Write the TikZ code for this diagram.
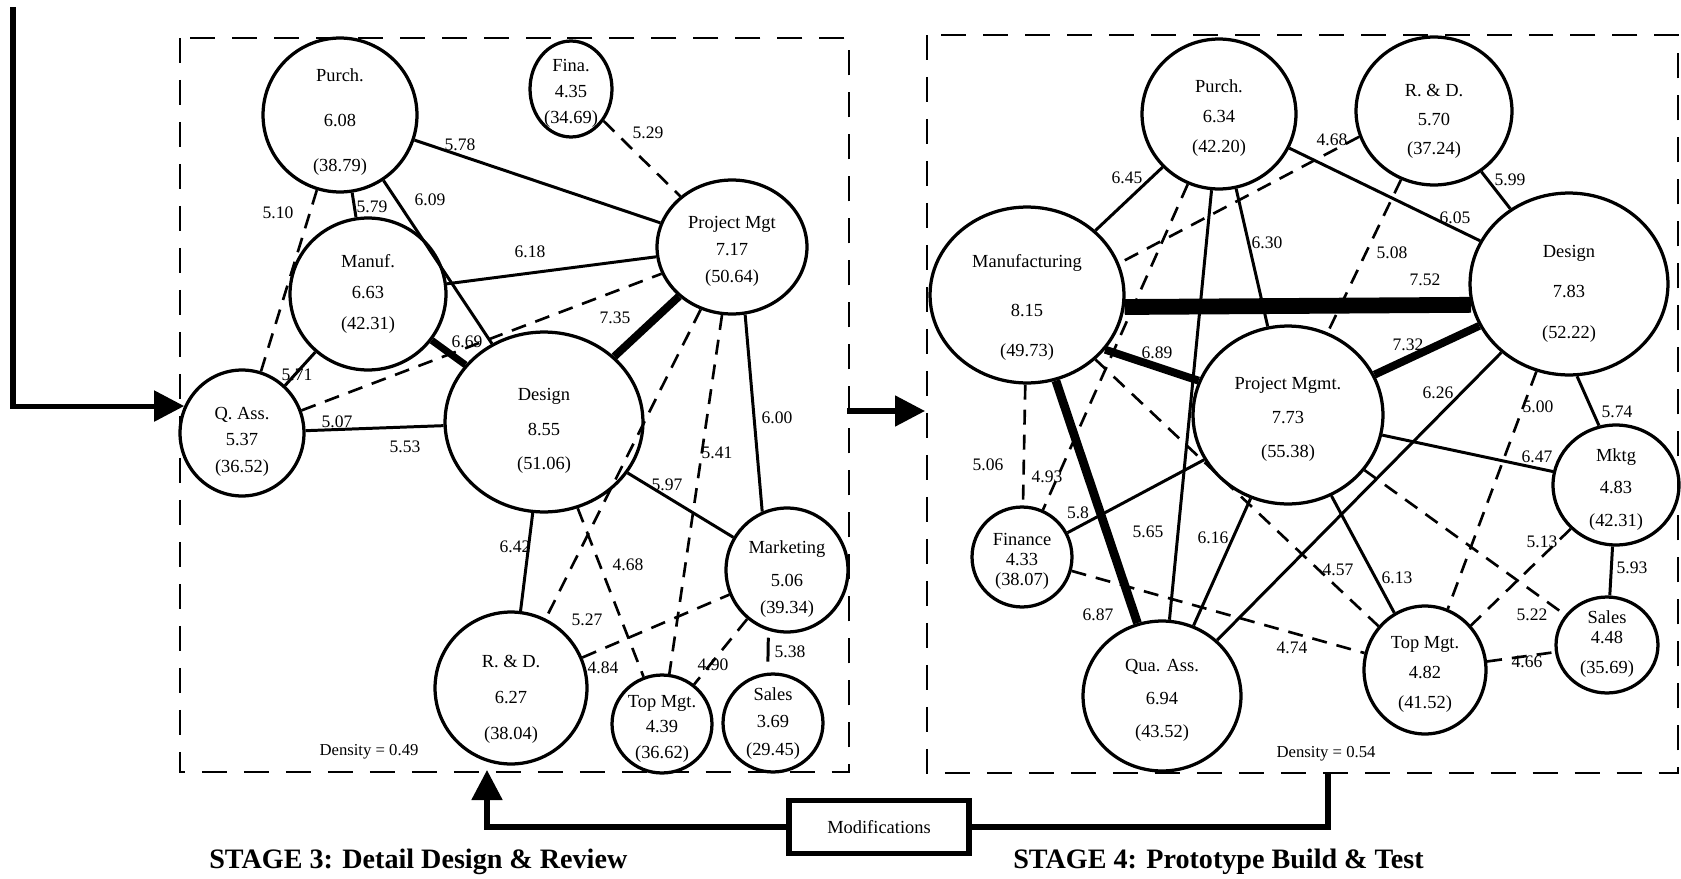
\documentclass[tikz,border=0pt]{standalone}
\usepackage{fontspec}
\setmainfont{Liberation Serif}
\usetikzlibrary{shapes.geometric,arrows.meta}

\newcommand\nfont{\fontsize{10.5}{12}\selectfont}
\newcommand\lfont{\fontsize{10}{12}\selectfont}
\newcommand\dfont{\fontsize{9.5}{11}\selectfont}
\newcommand\tfont{\fontsize{16}{19}\selectfont\bfseries}
% three stacked lines inside a node:
% #1 top strut, #2 bottom strut, #3-#5 the lines, #6 #7 extra gaps
\newcommand\three[7]{\rule{0pt}{#1}#3\\[#6]#4\\[#7]#5\rule[-#2]{0pt}{#2}}

\begin{document}
\begin{tikzpicture}[x=0.02cm,y=-0.02cm,
  % negative inner sep keeps the ellipse at its minimum size whatever the struts
  nd/.style 2 args={draw, ellipse, line width=1.85pt, inner sep=-10pt, align=center,
    font=\nfont, minimum width=#1*0.04cm, minimum height=#2*0.04cm},
  lbl/.style={inner sep=0pt, font=\lfont},
  tie/.style={line width=1.7pt},
  weak/.style={line width=1.5pt, dash pattern=on 0.3cm off 0.2cm},
  heavy/.style={line width=#1},
  frame/.style={line width=1.5pt, dash pattern=on 0.5cm off 0.34cm},
  flow/.style={line width=2.9pt, line join=miter},
  tip/.style={-{Triangle[length=0.6cm,width=0.6cm]}},
]
\path[use as bounding box] (0,0) rectangle (1681,879);

% panel frames
\draw[frame] (180,38) rectangle (849,772);
\draw[frame] (927,35) rectangle (1678,773);

% ---------- stage 3 network ----------
\node[nd={77}{77}] (pu3) at (340,115) {\three{15.5pt}{0pt}{Purch.}{6.08}{(38.79)}{13.5pt}{13.5pt}};
\node[nd={41}{48}] (fi3) at (571,89) {\three{12pt}{0pt}{Fina.}{4.35}{(34.69)}{3pt}{3pt}};
\node[nd={75}{67}] (pm3) at (732,247) {\three{12pt}{0pt}{Project Mgt}{7.17}{(50.64)}{3.5pt}{3.5pt}};
\node[nd={78}{76}] (ma3) at (368,294) {\three{12pt}{7pt}{Manuf.}{6.63}{(42.31)}{5.5pt}{5.5pt}};
\node[nd={62}{63}] (qa3) at (242,433) {\three{17pt}{0pt}{Q. Ass.}{5.37}{(36.52)}{3pt}{3pt}};
\node[nd={99}{90}] (de3) at (544,422) {\three{17pt}{0pt}{Design}{8.55}{(51.06)}{8pt}{7pt}};
\node[nd={61}{62}] (mk3) at (787,570) {\three{18pt}{0pt}{Marketing}{5.06}{(39.34)}{6.7pt}{3.3pt}};
\node[nd={76}{76}] (rd3) at (511,688) {\three{19.5pt}{0pt}{R. \& D.}{6.27}{(38.04)}{8.5pt}{8.5pt}};
\node[nd={50}{49}] (tm3) at (662,724) {\three{12pt}{0pt}{Top Mgt.}{4.39}{(36.62)}{2.5pt}{2.5pt}};
\node[nd={50}{49}] (sa3) at (773,723) {\three{12pt}{6.5pt}{Sales}{3.69}{(29.45)}{3.5pt}{3.5pt}};

\draw[tie] (pu3) -- (pm3);
\draw[tie] (pu3) -- (ma3);
\draw[tie] (pu3) -- (de3);
\draw[weak] (pu3) -- (qa3);
\draw[tie] (ma3) -- (pm3);
\draw[tie] (ma3) -- (qa3);
\draw[heavy=4pt] (ma3) -- (de3);
\draw[weak] (qa3) -- (pm3);
\draw[tie] (qa3) -- (de3);
\draw[heavy=4.5pt] (de3) -- (pm3);
\draw[weak] (fi3) -- (pm3);
\draw[tie] (pm3.-79) -- (mk3.113);
\draw[weak] (pm3) -- (tm3);
\draw[weak] (pm3) -- (rd3);
\draw[weak] (de3) -- (tm3);
\draw[weak] (rd3) -- (mk3);
\draw[weak] (mk3) -- (tm3);
\draw[tie, shorten <=0.14cm, shorten >=0.22cm] (mk3.-107) -- (sa3.96);
\draw[tie] (de3) -- (mk3);
\draw[tie] (de3) -- (rd3);

\node[lbl] (l3a) at (460,145) {5.78};
\node[lbl] (l3b) at (372,207) {5.79};
\node[lbl] (l3c) at (430,200) {6.09};
\node[lbl] (l3d) at (278,213) {5.10};
\node[lbl] (l3e) at (530,252) {6.18};
\node[lbl] (l3f) at (297,375) {5.71};
\node[lbl] (l3g) at (467,342) {6.69};
\node[lbl] (l3h) at (337,422) {5.07};
\node[lbl] (l3i) at (405,447) {5.53};
\node[lbl] (l3j) at (615,318) {7.35};
\node[lbl] (l3k) at (648,133) {5.29};
\node[lbl] (l3l) at (777,418) {6.00};
\node[lbl] (l3m) at (717,453) {5.41};
\node[lbl] (l3n) at (587,620) {5.27};
\node[lbl] (l3o) at (628,565) {4.68};
\node[lbl] (l3p) at (603,668) {4.84};
\node[lbl] (l3q) at (713,665) {4.90};
\node[lbl] (l3r) at (790,652) {5.38};
\node[lbl] (l3s) at (667,485) {5.97};
\node[lbl] (l3t) at (515,547) {6.42};
\node[inner sep=0pt, font=\dfont] (dens3) at (369,752) {Density = 0.49};

% ---------- stage 4 network ----------
\node[nd={77}{75}] (pu4) at (1219,114) {\three{12pt}{0pt}{Purch.}{6.34}{(42.20)}{5pt}{5pt}};
\node[nd={78}{74}] (rd4) at (1434,111) {\three{19pt}{0pt}{R. \& D.}{5.70}{(37.24)}{4.5pt}{4.5pt}};
\node[nd={97}{88}] (ma4) at (1027,295) {\three{21.5pt}{0pt}{Manufacturing}{8.15}{(49.73)}{16pt}{10.5pt}};
\node[nd={99}{91}] (de4) at (1569,284) {\three{18pt}{0pt}{Design}{7.83}{(52.22)}{11pt}{11pt}};
\node[nd={95}{89}] (pm4) at (1288,415) {\three{12pt}{0pt}{Project Mgmt.}{7.73}{(55.38)}{7.5pt}{7.5pt}};
\node[nd={63}{60}] (mk4) at (1616,485) {\three{12pt}{0pt}{Mktg}{4.83}{(42.31)}{6.5pt}{6.5pt}};
\node[nd={50}{50}] (fn4) at (1022,557) {\three{12pt}{0pt}{Finance}{4.33}{(38.07)}{-0.5pt}{-0.5pt}};
\node[nd={79}{75}] (qa4) at (1162,696) {\three{12pt}{0pt}{Qua. Ass.}{6.94}{(43.52)}{7pt}{7pt}};
\node[nd={61}{64}] (tm4) at (1425,670) {\three{12pt}{0pt}{Top Mgt.}{4.82}{(41.52)}{5pt}{5pt}};
\node[nd={51}{48}] (sa4) at (1607,645) {\three{12pt}{8.5pt}{Sales}{4.48}{(35.69)}{-0.5pt}{5pt}};

\draw[tie] (pu4) -- (ma4);
\draw[weak] (pu4) -- (fn4);
\draw[tie] (pu4) -- (qa4);
\draw[tie] (pu4) -- (pm4);
\draw[tie] (pu4) -- (de4);
\draw[weak] (rd4.199) -- (ma4.19);
\draw[tie] (rd4) -- (de4);
\draw[weak] (rd4) -- (pm4);
\draw[heavy=9pt] (ma4.-7) -- (de4.192);
\draw[heavy=4.5pt] (ma4.-35) -- (pm4.159);
\draw[heavy=5pt] (ma4) -- (qa4);
\draw[weak] (ma4) -- (fn4);
\draw[weak] (ma4) -- (tm4);
\draw[heavy=4.5pt] (pm4) -- (de4);
\draw[tie] (qa4) -- (de4);
\draw[weak] (de4) -- (tm4);
\draw[tie] (de4.-85) -- (mk4.106);
\draw[tie] (pm4) -- (mk4);
\draw[tie] (pm4) -- (tm4);
\draw[tie] (qa4) -- (pm4);
\draw[tie] (fn4) -- (pm4);
\draw[weak] (fn4) -- (tm4);
\draw[weak] (pm4) -- (sa4);
\draw[weak] (mk4) -- (tm4);
\draw[tie] (mk4) -- (sa4);
\draw[weak] (tm4) -- (sa4);

\node[lbl] (l4a) at (1127,178) {6.45};
\node[lbl] (l4b) at (1332,140) {4.68};
\node[lbl] (l4c) at (1510,180) {5.99};
\node[lbl] (l4d) at (1267,243) {6.30};
\node[lbl] (l4e) at (1455,218) {6.05};
\node[lbl] (l4f) at (1392,253) {5.08};
\node[lbl] (l4g) at (1425,280) {7.52};
\node[lbl] (l4h) at (1157,353) {6.89};
\node[lbl] (l4i) at (1408,345) {7.32};
\node[lbl] (l4j) at (1438,393) {6.26};
\node[lbl] (l4k) at (1538,407) {5.00};
\node[lbl] (l4l) at (1617,412) {5.74};
\node[lbl] (l4m) at (1537,457) {6.47};
\node[lbl] (l4n) at (988,465) {5.06};
\node[lbl] (l4o) at (1047,477) {4.93};
\node[lbl] (l4p) at (1078,513) {5.8};
\node[lbl] (l4q) at (1148,532) {5.65};
\node[lbl] (l4r) at (1213,538) {6.16};
\node[lbl] (l4s) at (1542,542) {5.13};
\node[lbl] (l4t) at (1632,568) {5.93};
\node[lbl] (l4u) at (1338,570) {4.57};
\node[lbl] (l4v) at (1397,578) {6.13};
\node[lbl] (l4w) at (1532,615) {5.22};
\node[lbl] (l4x) at (1098,615) {6.87};
\node[lbl] (l4y) at (1292,648) {4.74};
\node[lbl] (l4z) at (1527,662) {4.66};
\node[inner sep=0pt, font=\dfont] (dens4) at (1326,754) {Density = 0.54};

% ---------- flow between stages ----------
\coordinate (inTop) at (13,7);
\draw[flow, tip] (inTop) |- (qa3.155);

\coordinate (midA) at (847,411);
\coordinate (midB) at (925,411);
\draw[flow, tip] (midA) -- (midB);

\node[draw, line width=2.9pt, minimum width=3.6cm, minimum height=1.06cm,
  inner sep=0pt, font=\nfont] (mods) at (879,827) {Modifications};
\coordinate (fbTop) at (1328,773);
\coordinate (fbEnd) at (487,770);
\draw[flow] (fbTop) |- (mods.east);
\draw[flow, tip] (mods.west) -| (fbEnd);

% stage titles
\node[font=\tfont, anchor=west, inner sep=0pt] (st3) at (209,862) {STAGE 3: Detail Design \& Review};
\node[font=\tfont, anchor=west, inner sep=0pt] (st4) at (1013,862) {STAGE 4: Prototype Build \& Test};
\end{tikzpicture}
\end{document}
